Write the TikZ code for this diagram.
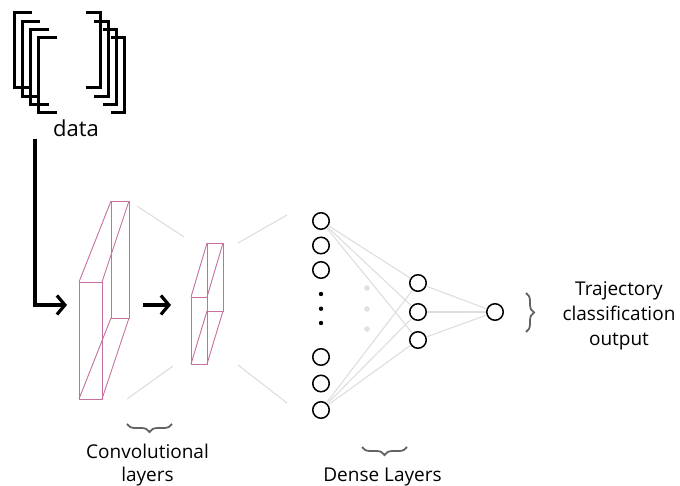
\documentclass[tikz,border=0pt]{standalone}
\usepackage{fontspec}
\setmainfont{Open Sans}
\usetikzlibrary{arrows.meta,decorations.pathreplacing}
\definecolor{convc}{RGB}{196,112,160}
\definecolor{linkc}{RGB}{222,222,222}
\definecolor{bracec}{RGB}{100,100,100}
\definecolor{dotc}{RGB}{225,225,225}
\begin{document}
\begin{tikzpicture}[x=1pt,y=-1pt,
 neuron/.style={circle,draw=black,line width=1.5pt,minimum size=16.5pt,inner sep=0pt},
 link/.style={draw=linkc,line width=1.1pt},
 conv/.style={draw=convc,line width=0.9pt,line join=round},
 bigarrow/.style={line width=3.2pt,-{Straight Barb[length=8pt,width=19pt]}},
 bracketline/.style={line width=3pt,line cap=butt},
 gbrace/.style={decorate,decoration={brace,amplitude=8pt},draw=bracec,line width=1.8pt},
 lbl/.style={font=\fontsize{19}{25}\selectfont,align=center}]
\useasboundingbox (0,0) rectangle (680,486);

% data brackets
\foreach \i in {0,1,2,3}{
  \pgfmathsetmacro\dx{8.3*\i}
  \draw[bracketline] ({32+\dx},{13+\dx}) -- ({14+\dx},{13+\dx}) -- ({14+\dx},{88+\dx}) -- ({32+\dx},{88+\dx});
  \draw[bracketline] ({86+\dx},{13+\dx}) -- ({100+\dx},{13+\dx}) -- ({100+\dx},{88+\dx}) -- ({86+\dx},{88+\dx});
}
\node[font=\fontsize{22}{26}\selectfont,anchor=base,inner sep=0pt] (data) at (76,137) {data};

% input arrow
\coordinate (feed) at (35,139);
\coordinate (c1in) at (67,305);
\draw[bigarrow] (feed) |- (c1in);

% conv layer 1
\coordinate (f1a) at (79,282); \coordinate (f1b) at (102,282);
\coordinate (f1c) at (102,399); \coordinate (f1d) at (79,399);
\coordinate (b1a) at (111,201); \coordinate (b1b) at (129,201);
\coordinate (b1c) at (129,318); \coordinate (b1d) at (111,318);
\draw[conv] (f1a) -- (f1b) -- (f1c) -- (f1d) -- cycle;
\draw[conv] (b1a) -- (b1b) -- (b1c) -- (b1d) -- cycle;
\draw[conv] (f1a) -- (b1a) (f1b) -- (b1b) (f1c) -- (b1c) (f1d) -- (b1d);

% arrow between conv layers
\coordinate (a2s) at (143,305);
\coordinate (a2e) at (171,305);
\draw[bigarrow] (a2s) -- (a2e);

% conv layer 2
\coordinate (f2a) at (191,297); \coordinate (f2b) at (207,297);
\coordinate (f2c) at (207,364); \coordinate (f2d) at (191,364);
\coordinate (b2a) at (207,243); \coordinate (b2b) at (223,243);
\coordinate (b2c) at (223,311); \coordinate (b2d) at (207,311);
\draw[conv] (f2a) -- (f2b) -- (f2c) -- (f2d) -- cycle;
\draw[conv] (b2a) -- (b2b) -- (b2c) -- (b2d) -- cycle;
\draw[conv] (f2a) -- (b2a) (f2b) -- (b2b) (f2c) -- (b2c) (f2d) -- (b2d);

% perspective lines
\coordinate (p1) at (137,206); \coordinate (p2) at (184,237);
\coordinate (p3) at (127,399); \coordinate (p4) at (173,366);
\coordinate (p5) at (238,243); \coordinate (p6) at (287,215);
\coordinate (p7) at (238,365); \coordinate (p8) at (287,403);
\draw[link] (p1) -- (p2);
\draw[link] (p3) -- (p4);
\draw[link] (p5) -- (p6);
\draw[link] (p7) -- (p8);

% dense layers
\node[neuron] (n1) at (321,221) {};
\node[neuron] (n2) at (321,245.5) {};
\node[neuron] (n3) at (321,270) {};
\node[neuron] (n4) at (321,357) {};
\node[neuron] (n5) at (321,383.5) {};
\node[neuron] (n6) at (321,410) {};
\fill (321,294) circle (2.2pt) (321,308.7) circle (2.2pt) (321,323) circle (2.2pt);
\fill[dotc] (367,288) circle (2.8pt) (367,309) circle (2.8pt) (367,329) circle (2.8pt);
\node[neuron] (h1) at (418,283) {};
\node[neuron] (h2) at (418,312) {};
\node[neuron] (h3) at (418,340) {};
\node[neuron] (o1) at (495,312) {};
\foreach \h in {h1,h2,h3}{
  \draw[link] (n1) -- (\h);
  \draw[link] (n6) -- (\h);
  \draw[link] (\h) -- (o1);
}

% braces and labels
\coordinate (rb1) at (526,293); \coordinate (rb2) at (526,332);
\draw[gbrace] (rb1) -- (rb2);
\node[lbl] (outlbl) at (619,316) {Trajectory\\classification\\output};

\coordinate (cb1) at (172,424); \coordinate (cb2) at (127,424);
\draw[gbrace] (cb1) -- (cb2);
\node[lbl,anchor=base] (convlbl) at (147.5,458) {Convolutional};
\node[lbl,anchor=base] (convlbl2) at (147.5,481) {layers};

\coordinate (db1) at (407,447); \coordinate (db2) at (362,447);
\draw[gbrace] (db1) -- (db2);
\node[lbl,anchor=base] (denselbl) at (382.5,481) {Dense Layers};
\end{tikzpicture}
\end{document}
